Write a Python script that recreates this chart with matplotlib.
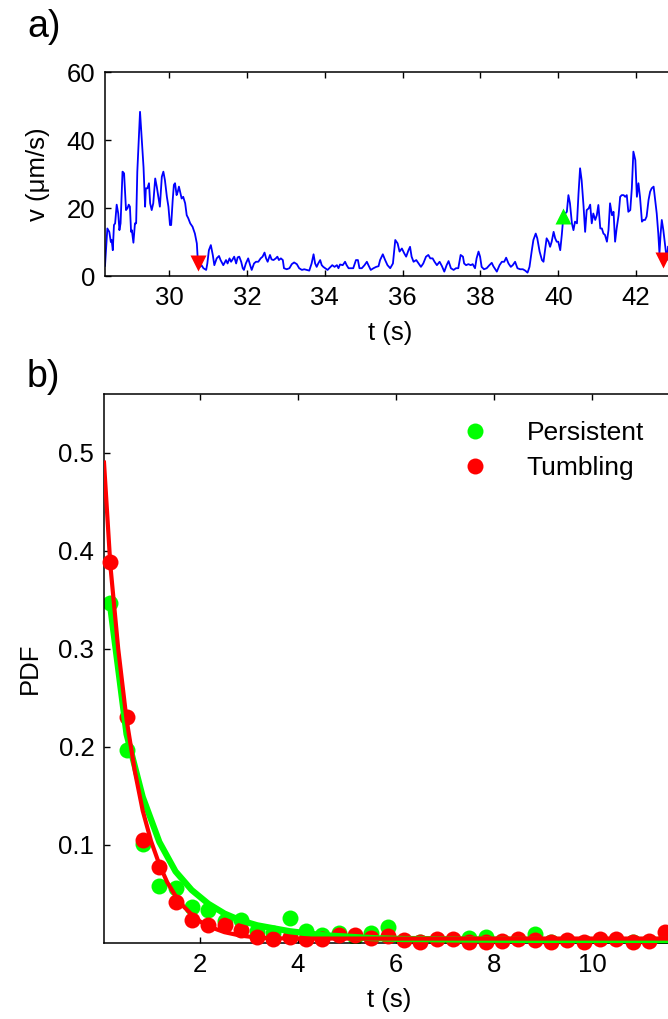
import matplotlib
matplotlib.use("Agg")

import numpy as np
import matplotlib.pyplot as plt

plt.rcParams['font.family'] = ['Liberation Sans', 'DejaVu Sans']

# panel a: speed trace
trace_t = [28.35, 28.41, 28.46, 28.50, 28.52, 28.55, 28.58, 28.61, 28.65, 28.69, 28.72, 28.75,
           28.80, 28.84, 28.89, 28.93, 28.96, 28.99, 29.02, 29.04, 29.08, 29.12, 29.15, 29.18,
           29.25, 29.29, 29.34, 29.38, 29.40, 29.44, 29.48, 29.51, 29.55, 29.59, 29.64, 29.68,
           29.72, 29.76, 29.81, 29.85, 29.89, 29.94, 29.98, 30.02, 30.05, 30.09, 30.12, 30.15,
           30.19, 30.22, 30.25, 30.28, 30.32, 30.36, 30.41, 30.45, 30.49, 30.54, 30.60, 30.66,
           30.71, 30.73, 30.75, 30.79, 30.83, 30.88, 30.95, 30.98, 31.02, 31.07, 31.12, 31.16,
           31.22, 31.28, 31.32, 31.39, 31.46, 31.50, 31.55, 31.59, 31.63, 31.67, 31.72, 31.76,
           31.80, 31.85, 31.89, 31.92, 31.97, 32.03, 32.08, 32.12, 32.18, 32.23, 32.29, 32.35,
           32.40, 32.45, 32.49, 32.53, 32.59, 32.63, 32.68, 32.74, 32.78, 32.82, 32.87, 32.92,
           32.95, 33.02, 33.09, 33.15, 33.21, 33.28, 33.34, 33.41, 33.47, 33.53, 33.60, 33.66,
           33.71, 33.75, 33.79, 33.83, 33.88, 33.92, 33.96, 34.01, 34.07, 34.13, 34.19, 34.25,
           34.31, 34.35, 34.39, 34.46, 34.52, 34.56, 34.61, 34.67, 34.73, 34.80, 34.85, 34.89,
           34.95, 35.02, 35.08, 35.12, 35.18, 35.25, 35.32, 35.38,
           35.42, 35.49, 35.55, 35.61, 35.68, 35.75, 35.81, 35.87, 35.92, 35.98, 36.04, 36.09,
           36.15, 36.19, 36.23, 36.28, 36.35, 36.41, 36.47, 36.53, 36.60, 36.66, 36.71, 36.77,
           36.82, 36.88, 36.95, 37.01, 37.07, 37.13, 37.18, 37.24, 37.31, 37.37, 37.43, 37.49,
           37.55, 37.58, 37.63, 37.69, 37.75, 37.80, 37.86, 37.90, 37.95, 37.99, 38.03, 38.09,
           38.16, 38.23, 38.29, 38.33, 38.42, 38.49, 38.55, 38.61, 38.66, 38.72, 38.78, 38.83,
           38.89, 38.95, 39.02, 39.09, 39.15, 39.21, 39.26, 39.32, 39.36, 39.42, 39.46, 39.52,
           39.58, 39.62, 39.66, 39.70, 39.75, 39.79, 39.83, 39.88, 39.92, 39.96, 40.00, 40.05,
           40.09, 40.13, 40.18, 40.22, 40.26, 40.30, 40.35, 40.39, 40.43, 40.48, 40.52, 40.56,
           40.60, 40.65, 40.69, 40.73, 40.78, 40.82, 40.86, 40.90, 40.95, 40.99, 41.03, 41.08,
           41.12, 41.16, 41.20, 41.25, 41.29, 41.33, 41.38, 41.42, 41.46, 41.50, 41.55, 41.59,
           41.63, 41.68, 41.72, 41.76, 41.80, 41.85, 41.89, 41.93, 41.98, 42.02, 42.06, 42.10,
           42.15, 42.19, 42.23, 42.27, 42.32, 42.36, 42.40, 42.45, 42.49, 42.53, 42.57, 42.60,
           42.63, 42.66, 42.70, 42.75, 42.79, 42.82]
trace_v = [3.0, 14.0, 13.0, 10.0, 10.6, 7.6, 15.0, 15.5, 21.0, 18.4, 13.5, 15.5,
           30.7, 30.2, 19.4, 20.0, 21.0, 20.4, 13.0, 13.5, 9.8, 15.5, 15.5, 30.7,
           48.3, 41.0, 32.0, 20.4, 25.8, 25.8, 27.3, 21.4, 19.4, 21.4, 28.7, 26.3,
           23.3, 20.4, 29.2, 30.7, 28.2, 23.3, 20.4, 15.0, 15.0, 22.4, 26.8, 27.3,
           23.8, 24.8, 26.3, 24.8, 22.8, 23.3, 21.4, 17.9, 17.0, 15.5, 14.5, 12.5,
           9.6, 5.7, 4.2, 2.7, 3.2, 2.3, 1.8, 3.7, 7.6, 9.1, 6.2, 3.2,
           5.2, 5.9, 4.7, 3.2, 4.7, 3.7, 5.2, 4.2, 4.9, 5.7, 3.7, 5.5,
           5.7, 4.2, 2.3, 1.8, 3.7, 5.2, 3.2, 1.8, 3.7, 4.2, 4.2, 5.2,
           5.7, 6.9, 5.2, 4.2, 6.2, 4.9, 4.7, 5.2, 5.7, 4.7, 5.2, 4.7,
           2.3, 2.0, 2.3, 3.5, 4.0, 3.5, 2.3, 1.8, 2.0, 1.8, 1.6, 3.7,
           6.4, 3.7, 2.7, 3.7, 4.7, 3.2, 2.7, 2.3, 1.8, 2.5, 3.2, 2.7,
           3.2, 2.3, 3.4, 3.2, 4.2, 3.2, 2.3, 2.3, 2.3, 4.7, 4.7, 2.3,
           2.3, 3.2, 4.2, 3.2, 1.8, 2.3, 2.7, 2.9,
           4.7, 6.4, 4.7, 3.2, 2.3, 3.7, 10.6, 9.6, 7.2, 8.1, 6.7, 5.7,
           7.6, 8.6, 5.7, 4.2, 4.7, 3.7, 2.7, 3.7, 5.7, 6.2, 5.2, 5.2,
           4.2, 3.2, 4.2, 2.9, 1.3, 3.2, 4.4, 2.3, 1.8, 2.3, 2.3, 6.2,
           5.7, 3.7, 3.2, 3.5, 3.2, 3.5, 2.3, 5.2, 7.2, 5.7, 2.7, 2.0,
           2.3, 3.2, 3.9, 2.9, 1.3, 3.2, 4.2, 4.2, 5.4, 3.7, 2.7, 3.2,
           4.2, 2.3, 2.0, 2.0, 1.6, 1.0, 2.7, 7.6, 10.6, 12.5, 11.1, 7.2,
           4.7, 4.2, 7.6, 11.1, 10.1, 8.6, 10.1, 13.0, 11.1, 10.1, 10.1, 7.6,
           12.1, 17.5, 18.4, 18.9, 23.8, 21.4, 15.5, 13.5, 16.0, 15.5, 24.3, 31.7,
           28.2, 20.4, 13.0, 19.4, 19.9, 21.0, 15.5, 18.4, 16.5, 17.9, 20.9, 14.0,
           14.0, 12.5, 12.1, 10.1, 13.5, 21.4, 17.9, 18.9, 10.1, 14.0, 17.9, 23.3,
           23.8, 23.8, 23.3, 23.8, 18.9, 19.4, 25.8, 36.6, 34.1, 23.3, 27.3, 23.3,
           16.0, 16.5, 16.5, 17.5, 22.4, 24.8, 25.8, 26.3, 22.4, 18.4, 12.5, 6.7,
           12.5, 16.5, 13.5, 8.6, 4.7, 8.6]

# switching events
stop_t = [30.73, 42.70]
stop_v = [3.8, 4.6]
start_t = [40.12]
start_v = [17.8]

# panel b: duration histograms
bin_t = [0.17, 0.5, 0.83, 1.17, 1.5, 1.83, 2.17, 2.5, 2.83, 3.17, 3.5, 3.83, 4.17, 4.5,
         4.83, 5.17, 5.5, 5.83, 6.17, 6.5, 6.83, 7.17, 7.5, 7.83, 8.17, 8.5, 8.83, 9.17,
         9.5, 9.83, 10.17, 10.5, 10.83, 11.17, 11.5]
pers_pdf = [0.347, 0.197, 0.101, 0.058, 0.056, 0.037, 0.034, 0.022, 0.023, 0.012, 0.010,
            0.025, 0.012, 0.008, 0.010, 0.006, 0.010, 0.016, 0.001, 0.001, 0.001, 0.001,
            0.005, 0.0065, 0.0003, 0.003, 0.009, 0.001, 0.001, 0.0003, 0.0, 0.001, 0.001,
            0.0, 0.003]
tumb_pdf = [0.389, 0.230, 0.105, 0.077, 0.042, 0.023, 0.018, 0.018, 0.013, 0.006, 0.004,
            0.006, 0.004, 0.004, 0.008, 0.008, 0.005, 0.007, 0.003, 0.0014, 0.004, 0.004,
            0.0014, 0.0014, 0.0024, 0.004, 0.003, 0.0007, 0.003, 0.0007, 0.004, 0.004,
            0.0007, 0.0024, 0.0115]
pers_fit = [0.342, 0.213, 0.149, 0.103, 0.073, 0.054, 0.040, 0.030, 0.023, 0.018, 0.015,
            0.012, 0.010, 0.008, 0.007, 0.006, 0.005, 0.0045, 0.004, 0.004, 0.0038, 0.0036,
            0.0035, 0.0034, 0.0033, 0.0032, 0.0031, 0.003, 0.003, 0.003, 0.003, 0.003,
            0.003, 0.003, 0.003]
tumb_fit_t = [0.04, 0.17, 0.33, 0.5, 0.67, 0.83, 1.0, 1.17, 1.33, 1.5, 1.67, 1.83, 2.0,
              2.17, 2.5, 2.83, 3.17, 3.5, 4.0, 5.0, 6.0, 8.0, 10.0, 11.7]
tumb_fit = [0.49, 0.385, 0.30, 0.228, 0.175, 0.135, 0.104, 0.080, 0.062, 0.048, 0.037,
            0.029, 0.022, 0.017, 0.011, 0.0075, 0.0055, 0.0048, 0.0045, 0.0045, 0.0045,
            0.0045, 0.0045, 0.0045]

GREEN = "#00ff00"
RED = "#ff0000"

fig = plt.figure(figsize=(6.68, 10.19), dpi=100)
ax1 = fig.add_axes([0.1572, 0.7291, 0.8533, 0.2002])
ax2 = fig.add_axes([0.1557, 0.0746, 0.855, 0.5388])

# --- a) ---
ax1.plot(trace_t, trace_v, color="#0000ff", lw=1.3)
ax1.plot(stop_t, stop_v, "v", color=RED, ms=12, mec="none", clip_on=False)
ax1.plot(start_t, start_v, "^", color=GREEN, ms=12, mec="none")
ax1.set_xlim(28.35, 43.0)
ax1.set_ylim(0, 60)
ax1.set_xticks([30, 32, 34, 36, 38, 40, 42])
ax1.set_yticks([0, 20, 40, 60])
ax1.set_xlabel("t (s)", fontsize=18.5, labelpad=8)
ax1.set_ylabel("v (μm/s)", fontsize=18.5, labelpad=12)

# --- b) ---
ax2.plot(bin_t, pers_pdf, "o", color=GREEN, ms=11.5, mec="none", label="Persistent", zorder=2)
ax2.plot(bin_t, tumb_pdf, "o", color=RED, ms=11.5, mec="none", label="Tumbling", zorder=3,
         clip_on=False)
ax2.plot(bin_t, pers_fit, color=GREEN, lw=4.5, zorder=4)
ax2.plot(tumb_fit_t, tumb_fit, color=RED, lw=3, zorder=5)
ax2.set_xlim(0.04, 11.7)
ax2.set_ylim(0, 0.56)
ax2.set_xticks([2, 4, 6, 8, 10])
ax2.set_yticks([0.1, 0.2, 0.3, 0.4, 0.5])
ax2.set_xlabel("t (s)", fontsize=18.5, labelpad=8)
ax2.set_ylabel("PDF", fontsize=18.5, labelpad=12)
ax2.legend(loc="center left", bbox_to_anchor=(0.5615, 0.897), frameon=False, fontsize=19,
           handlelength=2, handletextpad=0.97, labelspacing=0.43, borderpad=0.4)

for ax in (ax1, ax2):
    ax.tick_params(direction="in", top=True, right=True, length=4.5, width=1,
                   labelsize=18.5, pad=7)
    for s in ax.spines.values():
        s.set_linewidth(1.1)

fig.text(27 / 668, 1 - 37 / 1019, "a)", fontsize=27, va="baseline", ha="left")
fig.text(27 / 668, 1 - 387 / 1019, "b)", fontsize=27, va="baseline", ha="left")

fig.savefig("out.png", dpi=100)
